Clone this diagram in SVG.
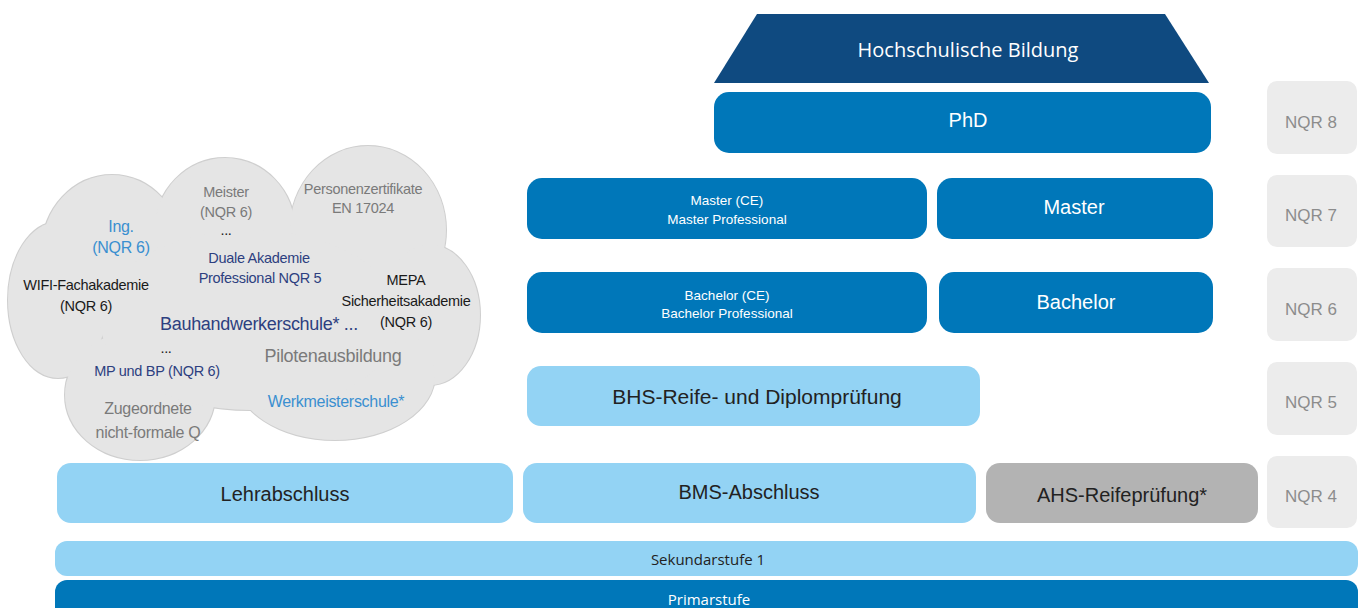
<svg xmlns="http://www.w3.org/2000/svg" width="1364" height="608" viewBox="0 0 1364 608">
<style>
.dark{fill:#0f4a80}
.mid{fill:#0077b9}
.light{fill:#93d3f4}
.gray{fill:#b3b3b3}
.nqr{fill:#ececec}
.t{font-family:"Liberation Sans",Arial,sans-serif;text-anchor:middle}
.o{font-family:"Open Sans","Noto Sans",sans-serif;text-anchor:middle}
.w{fill:#ffffff}
.k{fill:#222222}
.n{fill:#8c8c8c;font-size:17px}
.c{font-family:"Liberation Sans",Arial,sans-serif;text-anchor:middle;letter-spacing:-0.3px}
.s14{font-size:14.5px}
.s15{font-size:16px}
.s17{font-size:18px}
.cg{fill:#7a7a7a}
.cb{fill:#3a8fd0}
.cd{fill:#2d3f80}
.ck{fill:#1a1a1a}
.bump{fill:#e5e5e5}
.bumpS{fill:#e5e5e5;stroke:#cfcfcf;stroke-width:2}
</style>
<rect width="1364" height="608" fill="#ffffff"/>

<g id="cloud">
  <g class="bumpS">
    <ellipse cx="112" cy="250" rx="70" ry="75"/>
    <ellipse cx="225" cy="230" rx="70" ry="72"/>
    <ellipse cx="368" cy="230" rx="78" ry="84"/>
    <ellipse cx="430" cy="315" rx="50" ry="70"/>
    <ellipse cx="58" cy="300" rx="50" ry="78"/>
    <ellipse cx="140" cy="395" rx="75" ry="65"/>
    <ellipse cx="335" cy="375" rx="100" ry="65"/>
    <ellipse cx="250" cy="320" rx="150" ry="90"/>
  </g>
  <g class="bump">
    <ellipse cx="112" cy="250" rx="70" ry="75"/>
    <ellipse cx="225" cy="230" rx="70" ry="72"/>
    <ellipse cx="368" cy="230" rx="78" ry="84"/>
    <ellipse cx="430" cy="315" rx="50" ry="70"/>
    <ellipse cx="58" cy="300" rx="50" ry="78"/>
    <ellipse cx="140" cy="395" rx="75" ry="65"/>
    <ellipse cx="335" cy="375" rx="100" ry="65"/>
    <ellipse cx="250" cy="320" rx="150" ry="90"/>
  </g>
  <text class="c s15 cb" x="121" y="232">Ing.</text>
  <text class="c s15 cb" x="121" y="253">(NQR 6)</text>
  <text class="c s14 cg" x="226" y="197">Meister</text>
  <text class="c s14 cg" x="226" y="217">(NQR 6)</text>
  <text class="c s14 ck" x="226" y="235">...</text>
  <text class="c s14 cg" x="363" y="194">Personenzertifikate</text>
  <text class="c s14 cg" x="363" y="213">EN 17024</text>
  <text class="c s14 cd" x="259" y="263">Duale Akademie</text>
  <text class="c s14 cd" x="260" y="283">Professional NQR 5</text>
  <text class="c s14 ck" x="86" y="290">WIFI-Fachakademie</text>
  <text class="c s14 ck" x="86" y="311">(NQR 6)</text>
  <text class="c s14 ck" x="406" y="285">MEPA</text>
  <text class="c s14 ck" x="406" y="306">Sicherheitsakademie</text>
  <text class="c s14 ck" x="406" y="327">(NQR 6)</text>
  <text class="c s17 cd" x="259" y="330">Bauhandwerkerschule* ...</text>
  <text class="c s14 ck" x="166" y="353">...</text>
  <text class="c s14 cd" x="157" y="376">MP und BP (NQR 6)</text>
  <text class="c s17 cg" x="333" y="362">Pilotenausbildung</text>
  <text class="c s15 cb" x="336" y="407">Werkmeisterschule*</text>
  <text class="c s15 cg" x="148" y="414">Zugeordnete</text>
  <text class="c s15 cg" x="148" y="438">nicht-formale Q</text>
</g>

<g id="hochschule">
  <polygon class="dark" points="757,14 1165,14 1209,83 714,83"/>
  <text class="o w" x="968" y="57" font-size="20">Hochschulische Bildung</text>
</g>
<g id="phd">
  <rect class="mid" x="714" y="92" width="497" height="61" rx="15"/>
  <text class="t w" x="968" y="127" font-size="20">PhD</text>
</g>
<g id="master-ce">
  <rect class="mid" x="527" y="178" width="400" height="61" rx="15"/>
  <text class="t w" x="727" y="205" font-size="13.5">Master (CE)</text>
  <text class="t w" x="727" y="224" font-size="13.5">Master Professional</text>
</g>
<g id="master">
  <rect class="mid" x="937" y="178" width="276" height="61" rx="15"/>
  <text class="t w" x="1074" y="214" font-size="20">Master</text>
</g>
<g id="bachelor-ce">
  <rect class="mid" x="527" y="272" width="400" height="61" rx="15"/>
  <text class="t w" x="727" y="300" font-size="13.5">Bachelor (CE)</text>
  <text class="t w" x="727" y="318" font-size="13.5">Bachelor Professional</text>
</g>
<g id="bachelor">
  <rect class="mid" x="939" y="272" width="274" height="61" rx="15"/>
  <text class="t w" x="1076" y="309" font-size="20">Bachelor</text>
</g>
<g id="bhs">
  <rect class="light" x="527" y="366" width="453" height="60" rx="14"/>
  <text class="t k" x="757" y="404" font-size="21">BHS-Reife- und Diplomprüfung</text>
</g>
<g id="lehre">
  <rect class="light" x="57" y="463" width="456" height="60" rx="14"/>
  <text class="t k" x="285" y="501" font-size="20">Lehrabschluss</text>
</g>
<g id="bms">
  <rect class="light" x="523" y="463" width="453" height="60" rx="14"/>
  <text class="t k" x="749" y="499" font-size="20">BMS-Abschluss</text>
</g>
<g id="ahs">
  <rect class="gray" x="986" y="463" width="272" height="60" rx="14"/>
  <text class="t k" x="1122" y="502" font-size="20">AHS-Reifeprüfung*</text>
</g>
<g id="nqr8"><rect class="nqr" x="1267" y="81" width="90" height="73" rx="10"/><text class="t n" x="1311" y="128">NQR 8</text></g>
<g id="nqr7"><rect class="nqr" x="1267" y="175" width="90" height="72" rx="10"/><text class="t n" x="1311" y="221">NQR 7</text></g>
<g id="nqr6"><rect class="nqr" x="1267" y="268" width="90" height="73" rx="10"/><text class="t n" x="1311" y="315">NQR 6</text></g>
<g id="nqr5"><rect class="nqr" x="1267" y="362" width="90" height="73" rx="10"/><text class="t n" x="1311" y="408">NQR 5</text></g>
<g id="nqr4"><rect class="nqr" x="1267" y="456" width="90" height="72" rx="10"/><text class="t n" x="1311" y="502">NQR 4</text></g>
<g id="sek1">
  <rect class="light" x="55" y="541" width="1303" height="35" rx="12"/>
  <text class="o k" x="708" y="565" font-size="15">Sekundarstufe 1</text>
</g>
<g id="primar">
  <rect class="mid" x="55" y="580" width="1303" height="45" rx="12"/>
  <text class="o w" x="709" y="605" font-size="15">Primarstufe</text>
</g>
<g id="connectors"></g>
</svg>
